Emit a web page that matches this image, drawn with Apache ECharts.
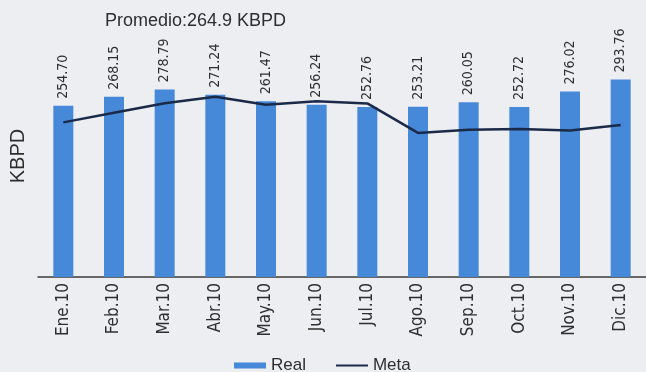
<!DOCTYPE html>
<html>
<head>
<meta charset="utf-8">
<script src="https://cdn.jsdelivr.net/npm/echarts@6/dist/echarts.min.js"></script>
<style>
  html, body { margin: 0; padding: 0; background: #eceef2; }
  #chart { width: 646px; height: 372px; }
</style>
</head>
<body>
<div id="chart"></div>
<script>
// Monthly production, 2010 (KBPD)
const months = ['Ene.10', 'Feb.10', 'Mar.10', 'Abr.10', 'May.10', 'Jun.10',
                'Jul.10', 'Ago.10', 'Sep.10', 'Oct.10', 'Nov.10', 'Dic.10'];
const realValues = [254.70, 268.15, 278.79, 271.24, 261.47, 256.24,
                    252.76, 253.21, 260.05, 252.72, 276.02, 293.76];
const metaValues = [230.0, 244.4, 258.5, 268.1, 256.2, 261.4,
                    258.2, 214.3, 219.1, 220.2, 218.1, 226.1];
const averageText = 'Promedio:264.9 KBPD';

const condensed = '"DejaVu Sans Condensed", "Liberation Sans Narrow", sans-serif';
const plain = '"Liberation Sans", Arial, sans-serif';
const ink = '#2e2e2e';
const chart = echarts.init(document.getElementById('chart'));

chart.setOption({
  backgroundColor: '#eceef2',
  animation: false,
  title: {
    text: averageText,
    left: 100,
    top: 7,
    textStyle: { fontFamily: plain, fontSize: 18, fontWeight: 'normal', color: ink }
  },
  legend: {
    left: 229,
    top: 352,
    itemGap: 30,
    itemWidth: 32,
    itemHeight: 6,
    symbolKeepAspect: true,
    textStyle: { fontFamily: plain, fontSize: 17, color: ink },
    data: [
      { name: 'Real', icon: 'rect' },
      { name: 'Meta', icon: 'path://M0,0H32V2H0Z' }
    ]
  },
  grid: { left: 36, width: 614, top: 35, bottom: 95 },
  xAxis: {
    type: 'category',
    data: months,
    axisLine: { lineStyle: { color: '#3a3a3a', width: 1.5 } },
    axisTick: { length: 5, lineStyle: { color: '#3a3a3a', width: 1.5 } },
    axisLabel: {
      rotate: 90,
      margin: 6,
      fontFamily: condensed,
      fontSize: 17,
      color: ink
    }
  },
  yAxis: {
    type: 'value',
    min: 0,
    max: 360,
    axisLine: { show: false },
    axisTick: { show: false },
    axisLabel: { show: false },
    splitLine: { show: false },
    name: 'KBPD',
    nameLocation: 'middle',
    nameGap: 10,
    nameRotate: 90,
    nameTextStyle: { fontFamily: plain, fontSize: 20, color: ink }
  },
  series: [
    {
      name: 'Real',
      type: 'bar',
      data: realValues,
      barWidth: 20,
      itemStyle: { color: '#4589d8' },
      label: {
        show: true,
        position: 'top',
        rotate: 90,
        align: 'left',
        verticalAlign: 'middle',
        distance: 7,
        fontFamily: condensed,
        fontSize: 14,
        color: ink,
        formatter: p => p.value.toFixed(2)
      }
    },
    {
      name: 'Meta',
      type: 'line',
      data: metaValues,
      symbol: 'none',
      lineStyle: { color: '#1b2a48', width: 2.5 },
      itemStyle: { color: '#1b2a48' }
    }
  ]
});
</script>
</body>
</html>
